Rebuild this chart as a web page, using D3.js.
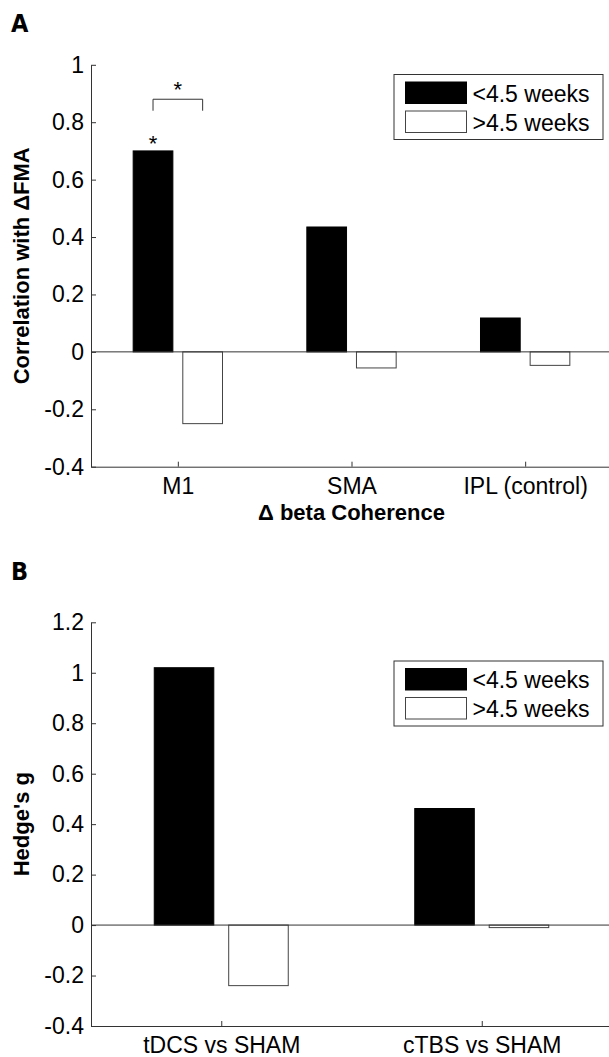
<!DOCTYPE html>
<html>
<head>
<meta charset="utf-8">
<script src="https://cdn.jsdelivr.net/npm/d3@7/dist/d3.min.js"></script>
<style>
  body { margin: 0; background: #fff; }
  svg { display: block; }
  text { font-family: "Liberation Sans", Arial, Helvetica, sans-serif; fill: #000; }
  .tick text { font-size: 23px; }
  .tick line, .domain { stroke: #333; }
  .axlabel { font-size: 22px; font-weight: bold; }
  .letter { font-family: "DejaVu Sans Condensed", "DejaVu Sans", sans-serif; font-stretch: condensed; font-size: 25px; font-weight: bold; }
  .leg { font-size: 23px; }
</style>
</head>
<body>
<div id="chart"></div>
<script>
// series names
const seriesNames = ["<4.5 weeks", ">4.5 weeks"];

// panel A: correlation of delta beta coherence with delta FMA
const regionsA = ["M1", "SMA", "IPL (control)"];
const earlyA = [0.70, 0.435, 0.118];
const lateA = [-0.25, -0.056, -0.047];
const ticksA = [-0.4, -0.2, 0, 0.2, 0.4, 0.6, 0.8, 1];

// panel B: Hedge's g
const compB = ["tDCS vs SHAM", "cTBS vs SHAM"];
const earlyB = [1.02, 0.462];
const lateB = [-0.24, -0.01];
const ticksB = [-0.4, -0.2, 0, 0.2, 0.4, 0.6, 0.8, 1, 1.2];

const width = 609, height = 1057;
const left = 91, right = 612;
// matlab grouped bar geometry (2 series)
const barOffset = 0.1429, barWidth = 0.2286;

const svg = d3.select("#chart").append("svg")
  .attr("width", width)
  .attr("height", height);

function paneel(opt) {
  const n = opt.cats.length;
  const x = d3.scaleLinear().domain([0.5, n + 0.5]).range([left, right]);
  const y = d3.scaleLinear().domain([opt.ticks[0], opt.ticks[opt.ticks.length - 1]]).range(opt.yRange);
  const g = svg.append("g");

  // bars
  const rows = opt.cats.map((c, i) => ({ i: i + 1, early: opt.early[i], late: opt.late[i] }));
  [["early", -barOffset, "#000", "#000"], ["late", barOffset, "#fff", "#444"]].forEach(([key, off, fill, stroke]) => {
    g.selectAll(null)
      .data(rows)
      .enter()
      .append("rect")
      .attr("x", d => x(d.i + off - barWidth / 2))
      .attr("width", d => x(d.i + off + barWidth / 2) - x(d.i + off - barWidth / 2))
      .attr("y", d => y(Math.max(0, d[key])))
      .attr("height", d => Math.abs(y(d[key]) - y(0)))
      .attr("fill", fill)
      .attr("stroke", stroke)
      .attr("stroke-width", 1);
  });

  // zero baseline
  g.append("line")
    .attr("x1", left).attr("x2", right)
    .attr("y1", y(0)).attr("y2", y(0))
    .attr("stroke", "#333");

  // Y-AS
  g.append("g")
    .attr("transform", `translate(${left},0)`)
    .call(d3.axisLeft(y)
      .tickValues(opt.ticks)
      .tickSizeInner(-5)
      .tickSizeOuter(0)
      .tickPadding(7)
      .tickFormat(d => String(+d.toFixed(1))));

  // X-AS
  g.append("g")
    .attr("transform", `translate(0,${opt.yRange[0]})`)
    .call(d3.axisBottom(x)
      .tickValues(d3.range(1, n + 1))
      .tickSizeInner(-5)
      .tickSizeOuter(0)
      .tickPadding(11)
      .tickFormat(d => opt.cats[d - 1]));

  g.selectAll(".tick text").attr("fill", "#000");

  // labels
  g.append("text")
    .attr("class", "axlabel")
    .attr("transform", `translate(29,${(opt.yRange[0] + opt.yRange[1]) / 2}) rotate(-90)`)
    .attr("text-anchor", "middle")
    .text(opt.yLabel);

  if (opt.xLabel) {
    g.append("text")
      .attr("class", "axlabel")
      .attr("x", (left + right) / 2)
      .attr("y", opt.yRange[0] + 53)
      .attr("text-anchor", "middle")
      .text(opt.xLabel);
  }

  g.append("text")
    .attr("class", "letter")
    .attr("x", 11)
    .attr("y", opt.letterY)
    .text(opt.letter);

  // legend
  const lg = g.append("g").attr("transform", `translate(394,${opt.legendTop})`);
  lg.append("rect")
    .attr("width", 209).attr("height", 65)
    .attr("fill", "#fff").attr("stroke", "#333");
  seriesNames.forEach((s, k) => {
    lg.append("rect")
      .attr("x", 11.5).attr("y", 7.5 + k * 29)
      .attr("width", 61).attr("height", 21.5)
      .attr("fill", k === 0 ? "#000" : "#fff")
      .attr("stroke", k === 0 ? "#000" : "#444");
    lg.append("text")
      .attr("class", "leg")
      .attr("x", 78.5)
      .attr("y", 27 + k * 29)
      .text(s);
  });

  return { x, y, g };
}

const A = paneel({
  cats: regionsA, early: earlyA, late: lateA, ticks: ticksA,
  yRange: [466.7, 64.8],
  yLabel: "Correlation with \u0394FMA",
  xLabel: "\u0394 beta Coherence",
  letter: "A", letterY: 32,
  legendTop: 74.5
});

paneel({
  cats: compB, early: earlyB, late: lateB, ticks: ticksB,
  yRange: [1026, 622.3],
  yLabel: "Hedge's g",
  letter: "B", letterY: 580,
  legendTop: 661
});

// significance markers (M1)
const xa = A.x, ya = A.y;
const x1 = xa(1 - barOffset), x2 = xa(1 + barOffset);
A.g.append("path")
  .attr("d", `M${x1},${ya(0.84)}V${ya(0.88)}H${x2}V${ya(0.84)}`)
  .attr("fill", "none")
  .attr("stroke", "#333");
A.g.append("text")
  .attr("x", (x1 + x2) / 2).attr("y", ya(0.88) - 2)
  .attr("text-anchor", "middle")
  .style("font-size", "22px")
  .text("*");
A.g.append("text")
  .attr("x", x1).attr("y", ya(earlyA[0]))
  .attr("text-anchor", "middle")
  .style("font-size", "22px")
  .text("*");
</script>
</body>
</html>
